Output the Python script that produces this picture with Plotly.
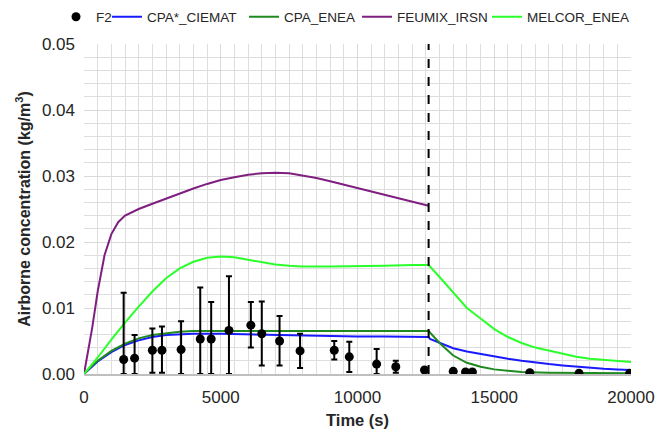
import plotly.graph_objects as go

# ---------------- data ----------------
f2_t = [1450, 1850, 2500, 2850, 3550, 4250, 4650, 5300, 6100, 6500, 7150, 7900,
        9150, 9700, 10700, 11400, 12450, 13500, 13950, 14200, 16300, 18100, 19950]
f2_v = [0.0022, 0.0024, 0.0036, 0.0036, 0.0037, 0.0053, 0.0053, 0.0066, 0.0074, 0.0061, 0.0050, 0.0035,
        0.0036, 0.0026, 0.0015, 0.0011, 0.0006, 0.0004, 0.0003, 0.0003, 0.0002, 0.0001, 0.0001]
f2_hi = [0.0123, 0.0059, 0.0069, 0.0072, 0.0080, 0.0131, 0.0109, 0.0148, 0.0109, 0.0110, 0.0088, 0.0061,
         0.0050, 0.0049, 0.0038, 0.0020, 0.0006, 0.0004, 0.0003, 0.0003, 0.0002, 0.0001, 0.0001]
f2_lo = [0.0, 0.0, 0.0002, 0.0002, 0.0, 0.0, 0.0, 0.0, 0.0040, 0.0013, 0.0013, 0.0009,
         0.0022, 0.0003, 0.0, 0.0002, 0.0006, 0.0004, 0.0003, 0.0003, 0.0002, 0.0001, 0.0001]

ciemat_t = [0, 250, 500, 1000, 1500, 2000, 2500, 3000, 3500, 4000, 5000, 6000, 7000, 8000, 9000,
            10000, 11000, 12000, 12600, 12650, 13000, 13500, 14000, 14500, 15000, 15500, 16000,
            16500, 17000, 17500, 18000, 18500, 19000, 19500, 20000]
ciemat_v = [0, 0.0010, 0.0019, 0.0033, 0.0044, 0.0051, 0.0056, 0.0059, 0.0060, 0.0061, 0.0061, 0.0060,
            0.0059, 0.0058, 0.0058, 0.0057, 0.0057, 0.0056, 0.0056, 0.0053, 0.0047, 0.0039, 0.0034,
            0.0030, 0.0026, 0.0023, 0.0020, 0.0017, 0.0015, 0.0013, 0.0011, 0.0009, 0.0008, 0.0007, 0.0006]

enea_t = [0, 250, 500, 1000, 1500, 2000, 2500, 3000, 3500, 4000, 6000, 8000, 10000, 12000, 12600,
          13000, 13500, 14000, 14500, 15000, 15500, 16000, 17000, 18000, 19000, 20000]
enea_v = [0, 0.0011, 0.0020, 0.0035, 0.0046, 0.0054, 0.0059, 0.0062, 0.0064, 0.0065, 0.0065, 0.0065,
          0.0065, 0.0065, 0.0065, 0.0047, 0.0028, 0.0017, 0.0011, 0.0007, 0.0005, 0.0003, 0.0002,
          0.00015, 0.0001, 0.0001]

feumix_t = [0, 150, 300, 500, 750, 1000, 1250, 1500, 2000, 2500, 3000, 3500, 4000, 4500, 5000, 5500,
            6000, 6500, 7000, 7500, 8000, 8500, 9000, 10000, 11000, 12000, 12600]
feumix_v = [0, 0.0035, 0.0070, 0.0125, 0.0180, 0.0212, 0.0230, 0.0240, 0.0250, 0.0258, 0.0266, 0.0274,
            0.0281, 0.0288, 0.0294, 0.0298, 0.0302, 0.0304, 0.0305, 0.0304, 0.0301, 0.0297, 0.0292,
            0.0282, 0.0271, 0.0262, 0.0255]

melcor_t = [0, 500, 1000, 1500, 2000, 2500, 3000, 3500, 4000, 4500, 5000, 5500, 6000, 6500, 7000, 7500,
            8000, 9000, 10000, 11000, 12000, 12600, 13000, 13500, 14000, 14500, 15000, 15500, 16000,
            16500, 17000, 17500, 18000, 18500, 19000, 19500, 20000]
melcor_v = [0, 0.0025, 0.0052, 0.0078, 0.0102, 0.0125, 0.0145, 0.0160, 0.0170, 0.0176, 0.0178, 0.0177,
            0.0173, 0.0169, 0.0166, 0.0164, 0.0163, 0.0163, 0.0163, 0.0164, 0.0165, 0.0165, 0.0147,
            0.0123, 0.0100, 0.0084, 0.0068, 0.0056, 0.0047, 0.0040, 0.0035, 0.0031, 0.0026, 0.0023,
            0.0021, 0.0019, 0.0018]

dash_time = 12600

FONT = "Liberation Sans, Arial, sans-serif"
TXT = "#262626"

# the page body adds an 8px offset; size the figure so the plot lands where the reference has it
OFF = 8
W, H = 672 - OFF, 431 - OFF
ML, MR, MT, MB = 84 - OFF, 41, 44 - OFF, 57
PW, PH = W - ML - MR, H - MT - MB

fig = go.Figure()

lines = [
    ("CPA*_CIEMAT", ciemat_t, ciemat_v, "#1a1aff", 92),
    ("CPA_ENEA", enea_t, enea_v, "#1f8a1f", 68),
    ("FEUMIX_IRSN", feumix_t, feumix_v, "#7f1f7f", 85),
    ("MELCOR_ENEA", melcor_t, melcor_v, "#2bff2b", 104),
]
for i, (name, t, v, c, lw) in enumerate(lines):
    fig.add_trace(go.Scatter(x=t, y=v, mode="lines", name=name, legendrank=i + 2,
                             legendwidth=lw, line=dict(color=c, width=2)))

fig.add_trace(go.Scatter(
    x=f2_t, y=f2_v, mode="markers", name="F2", legendrank=1, legendwidth=6,
    marker=dict(color="black", size=9),
    error_y=dict(type="data", symmetric=False,
                 array=[h - v for h, v in zip(f2_hi, f2_v)],
                 arrayminus=[v - l for v, l in zip(f2_v, f2_lo)],
                 color="black", thickness=2, width=3),
))

fig.add_shape(type="line", x0=dash_time, x1=dash_time, y0=0, y1=1, xref="x", yref="paper",
              line=dict(color="black", width=2, dash="dash"))

fig.update_layout(
    width=W, height=H,
    margin=dict(l=ML, r=MR, t=MT, b=MB, autoexpand=False),
    paper_bgcolor="white", plot_bgcolor="white",
    font=dict(family=FONT, color=TXT),
    showlegend=True,
    legend=dict(orientation="h", xref="paper", yref="paper",
                x=(56 - OFF - ML) / PW, xanchor="left",
                y=(H - MB - (17 - OFF)) / PH, yanchor="middle",
                font=dict(size=13.5, family=FONT, color=TXT), traceorder="normal",
                itemwidth=30, tracegroupgap=0, bgcolor="rgba(0,0,0,0)"),
)
fig.update_xaxes(
    range=[0, 20000], dtick=5000, tick0=0, tickformat="d",
    showgrid=True, gridcolor="#d9d9d9", gridwidth=1,
    minor=dict(dtick=500, showgrid=True, gridcolor="#dedede", gridwidth=1),
    showline=True, linecolor="#bfbfbf", linewidth=2, zeroline=False,
    ticks="", ticklabelstandoff=7, tickfont=dict(size=17, family=FONT, color=TXT),
    title=dict(text="<b>Time (s)</b>", font=dict(size=16.5, family=FONT, color=TXT), standoff=8),
)
fig.update_yaxes(
    range=[0, 0.05], dtick=0.01, tick0=0, tickformat=".2f",
    showgrid=True, gridcolor="#d9d9d9", gridwidth=1,
    minor=dict(dtick=0.002, showgrid=True, gridcolor="#dedede", gridwidth=1),
    showline=False, zeroline=False,
    ticks="", ticklabelstandoff=8, tickfont=dict(size=17, family=FONT, color=TXT),
    title=dict(text="<b>Airborne concentration (kg/m<sup>3</sup>)</b>",
               font=dict(size=16, family=FONT, color=TXT), standoff=7),
)

fig.write_html("out.html")
